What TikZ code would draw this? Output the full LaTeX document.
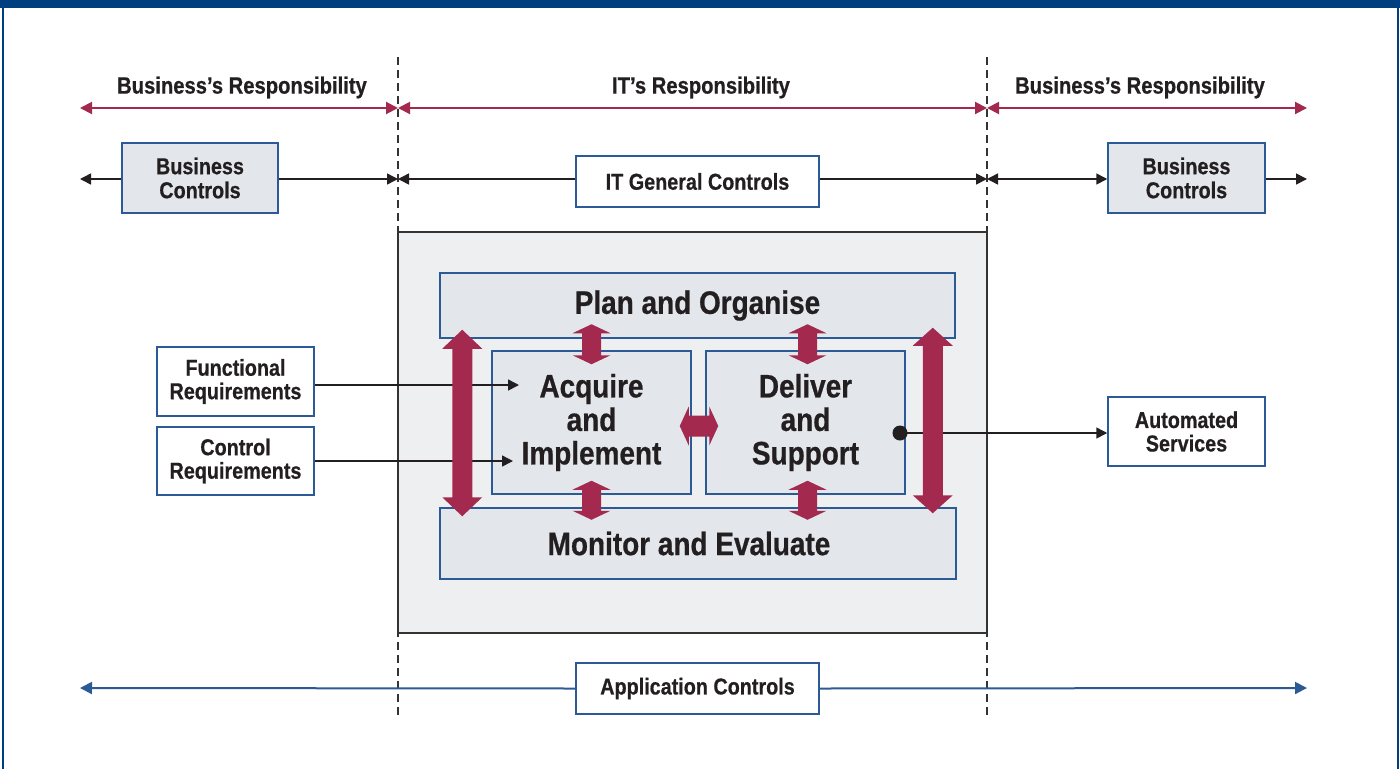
\documentclass[tikz,border=0pt]{standalone}
\usepackage{fontspec}
\setmainfont{Liberation Sans}[FakeStretch=0.86, BoldFeatures={FakeBold=0.6}]
\usetikzlibrary{arrows.meta,calc}
\definecolor{acred}{HTML}{A3294F}
\definecolor{acblue}{HTML}{2B5A96}
\definecolor{topblue}{HTML}{003F7F}
\definecolor{boxfill}{HTML}{E3E6EB}
\definecolor{outerfill}{HTML}{EEEFF1}
\definecolor{txt}{HTML}{231F20}
\definecolor{dashgray}{HTML}{333333}
\newcommand\vblock[5]{\fill[acred] let \p1=(#1), \p2=(#2) in (\p1) -- (\x1+#4,\y1-#3) -- (\x1+#5,\y1-#3) -- (\x2+#5,\y2+#3) -- (\x2+#4,\y2+#3) -- (\p2) -- (\x2-#4,\y2+#3) -- (\x2-#5,\y2+#3) -- (\x1-#5,\y1-#3) -- (\x1-#4,\y1-#3) -- cycle;}
\newcommand\hblock[5]{\fill[acred] let \p1=(#1), \p2=(#2) in (\p1) -- (\x1+#3,\y1+#4) -- (\x1+#3,\y1+#5) -- (\x2-#3,\y2+#5) -- (\x2-#3,\y2+#4) -- (\p2) -- (\x2-#3,\y2-#4) -- (\x2-#3,\y2-#5) -- (\x1+#3,\y1-#5) -- (\x1+#3,\y1-#4) -- cycle;}
\tikzset{
  box/.style={draw=acblue, line width=1.5pt, fill=boxfill, inner sep=0pt, align=center, text=txt},
  wbox/.style={box, fill=white},
  small/.style={font=\bfseries\fontsize{23}{24}\selectfont},
  smaller/.style={font=\bfseries\fontsize{23}{23.5}\selectfont},
  big/.style={font=\bfseries\fontsize{32.5}{33.5}\selectfont},
  redarr/.style={acred, line width=2pt, {Triangle[length=12pt,width=12pt]}-{Triangle[length=12pt,width=12pt]}},
  blk/.style={txt, line width=1.5pt, -{Triangle[length=11pt,width=11pt]}},
  bluearr/.style={acblue, line width=2pt, -{Triangle[length=12pt,width=12pt]}},
  dashln/.style={dashgray, line width=1.6pt, dash pattern=on 8pt off 5pt},
  lbl/.style={text=txt, font=\bfseries\fontsize{23.5}{24}\selectfont}
}
\begin{document}
\begin{tikzpicture}[x=1pt,y=-1pt]
\useasboundingbox (0,0) rectangle (1400,769);
\fill[white] (0,0) rectangle (1400,769);
\fill[topblue] (0,0) rectangle (1400,8);
\draw[topblue, line width=2pt] (2.5,0) -- (2.5,769);
\draw[topblue, line width=2pt] (1397.5,0) -- (1397.5,769);

% coordinates
\coordinate (d1t) at (398,57); \coordinate (d1b) at (398,715);
\coordinate (d2t) at (987,57); \coordinate (d2b) at (987,715);
\coordinate (rl) at (80,108); \coordinate (r1) at (398,108);
\coordinate (r2) at (987,108); \coordinate (rr) at (1307,108);
\coordinate (bl) at (80,179); \coordinate (b1) at (398,179);
\coordinate (b2) at (987,179); \coordinate (br) at (1307,179);
\coordinate (al) at (80,688); \coordinate (ar) at (1307,688);

% outer box
\filldraw[fill=outerfill, draw=dashgray, line width=1.5pt] (398,232) rectangle (987,633);
\node[inner sep=0pt] (outer) at (692.5,432.5) {};

% labels
\node[lbl] (lb1) at (242,87.5) {Business’s Responsibility};
\node[lbl] (lb2) at (701,87.5) {IT’s Responsibility};
\node[lbl] (lb3) at (1140,87.5) {Business’s Responsibility};

% top boxes
\node[box, small, minimum width=156pt, minimum height=70pt] (bcl) at (200,178) {Business\\Controls};
\node[wbox, small, minimum width=243pt, minimum height=51pt] (itg) at (697.5,181.5) {IT General Controls};
\node[box, small, minimum width=157pt, minimum height=70pt] (bcr) at (1186.5,178) {Business\\Controls};

% inner boxes
\node[box, big, minimum width=515pt, minimum height=65pt] (po) at (697.5,305.5) {\raisebox{-2pt}{Plan and Organise}};
\node[box, big, minimum width=516pt, minimum height=71pt] (me) at (698,543.5) {\hspace*{-18pt}\raisebox{-1pt}{Monitor and Evaluate}};
\node[box, big, minimum width=199pt, minimum height=143pt] (ai) at (591.5,422.5) {Acquire\\and\\Implement};
\node[box, big, minimum width=199pt, minimum height=143pt] (ds) at (805.5,422.5) {Deliver\\and\\Support};

% side boxes
\node[wbox, smaller, minimum width=157pt, minimum height=69pt] (fr) at (235.5,381.5) {Functional\\Requirements};
\node[wbox, smaller, minimum width=157pt, minimum height=68pt] (cr) at (235.5,461) {Control\\Requirements};
\node[wbox, smaller, minimum width=157pt, minimum height=69pt] (as) at (1186.5,431.5) {Automated\\Services};
\node[wbox, small, minimum width=243pt, minimum height=51pt] (appc) at (697.5,688.5) {Application Controls};

% dashed lines
\draw[dashln] (d1t) -- (d1b);
\draw[dashln] (d2t) -- (d2b);

% red responsibility arrows
\draw[redarr] (rl) -- (r1);
\draw[redarr] (r1) -- (r2);
\draw[redarr] (r2) -- (rr);

% black control arrows
\draw[blk] (bcl.west |- bl) -- (bl);
\draw[blk] (bcl.east |- b1) -- (b1);
\draw[blk] (itg.west |- b1) -- (b1);
\draw[blk] (itg.east |- b2) -- (b2);
\draw[blk, {Triangle[length=11pt,width=11pt]}-{Triangle[length=11pt,width=11pt]}] (b2) -- (bcr.west |- b2);
\draw[blk] (bcr.east |- br) -- (br);

% application controls
\draw[bluearr] (appc.west) -- (al);
\draw[bluearr] (appc.east) -- (ar);

% requirement arrows
\coordinate (fa) at (519,385);
\coordinate (ca) at (513,461);
\draw[blk] (fr.east |- fa) -- (fa);
\draw[blk] (cr.east |- ca) -- (ca);

% automated services
\coordinate (dot) at (900,433);
\fill[txt] (dot) circle (7.5pt);
\draw[blk] (dot) -- (as.west |- dot);

% block arrows
\coordinate (a1t) at ($(ai.north)+(0,-26)$); \coordinate (a1b) at ($(ai.north)+(0,14)$);
\coordinate (a2t) at ($(ds.north)+(2,-26)$); \coordinate (a2b) at ($(ds.north)+(2,14)$);
\coordinate (a3t) at ($(ai.south)+(0,-14)$); \coordinate (a3b) at ($(ai.south)+(0,25)$);
\coordinate (a4t) at ($(ds.south)+(2,-14)$); \coordinate (a4b) at ($(ds.south)+(2,25)$);
\vblock{a1t}{a1b}{9pt}{19pt}{9.5pt}
\vblock{a2t}{a2b}{9pt}{19pt}{9.5pt}
\vblock{a3t}{a3b}{9pt}{19pt}{9.5pt}
\vblock{a4t}{a4b}{9pt}{19pt}{9.5pt}
\coordinate (hl) at ($(ai.east)+(-12,3.5)$); \coordinate (hr) at ($(ds.west)+(13,3.5)$);
\hblock{hl}{hr}{9pt}{19.5pt}{10.5pt}
\coordinate (bgl1) at ($(po.south west)+(23,-9)$); \coordinate (bgl2) at ($(me.north west)+(23,9)$);
\coordinate (bgr1) at ($(po.south east)+(-23,-11)$); \coordinate (bgr2) at ($(me.north east)+(-24,6)$);
\vblock{bgl1}{bgl2}{19pt}{20pt}{10pt}
\vblock{bgr1}{bgr2}{18pt}{20pt}{10pt}
\end{tikzpicture}
\end{document}
